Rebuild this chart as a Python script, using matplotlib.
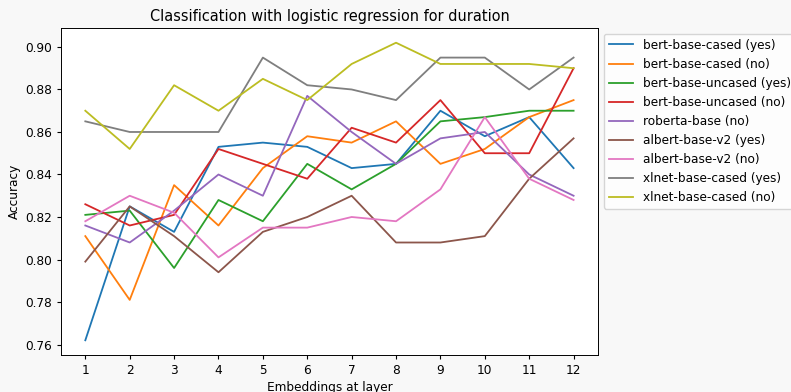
import matplotlib
matplotlib.use("Agg")
import matplotlib.pyplot as plt

layers = list(range(1, 13))

bert_cased_yes = [0.762, 0.825, 0.813, 0.853, 0.855, 0.853, 0.843, 0.845, 0.870, 0.858, 0.867, 0.843]
bert_cased_no = [0.811, 0.781, 0.835, 0.816, 0.843, 0.858, 0.855, 0.865, 0.845, 0.852, 0.867, 0.875]
bert_uncased_yes = [0.821, 0.823, 0.796, 0.828, 0.818, 0.845, 0.833, 0.845, 0.865, 0.867, 0.870, 0.870]
bert_uncased_no = [0.826, 0.816, 0.821, 0.852, 0.845, 0.838, 0.862, 0.855, 0.875, 0.850, 0.850, 0.890]
roberta_no = [0.816, 0.808, 0.823, 0.840, 0.830, 0.877, 0.860, 0.845, 0.857, 0.860, 0.840, 0.830]
albert_yes = [0.799, 0.825, 0.811, 0.794, 0.813, 0.820, 0.830, 0.808, 0.808, 0.811, 0.838, 0.857]
albert_no = [0.818, 0.830, 0.822, 0.801, 0.815, 0.815, 0.820, 0.818, 0.833, 0.867, 0.838, 0.828]
xlnet_yes = [0.865, 0.860, 0.860, 0.860, 0.895, 0.882, 0.880, 0.875, 0.895, 0.895, 0.880, 0.895]
xlnet_no = [0.870, 0.852, 0.882, 0.870, 0.885, 0.875, 0.892, 0.902, 0.892, 0.892, 0.892, 0.890]

series = [
    ("bert-base-cased (yes)", bert_cased_yes),
    ("bert-base-cased (no)", bert_cased_no),
    ("bert-base-uncased (yes)", bert_uncased_yes),
    ("bert-base-uncased (no)", bert_uncased_no),
    ("roberta-base (no)", roberta_no),
    ("albert-base-v2 (yes)", albert_yes),
    ("albert-base-v2 (no)", albert_no),
    ("xlnet-base-cased (yes)", xlnet_yes),
    ("xlnet-base-cased (no)", xlnet_no),
]

# the original looks like a scaled-down render, so shrink everything a bit
s = 0.87
plt.rcParams['font.size'] = 10 * s
plt.rcParams['lines.linewidth'] = 1.5 * s
plt.rcParams['xtick.major.size'] = 3.5 * s
plt.rcParams['ytick.major.size'] = 3.5 * s
plt.rcParams['axes.linewidth'] = 0.8 * s

fig = plt.figure(figsize=(7.91, 3.92), dpi=100, facecolor='#f8f8f8')
ax = fig.add_axes([0.077, 0.094, 0.679, 0.835])

for name, vals in series:
    ax.plot(layers, vals, label=name)

ax.set_xticks(layers)
ax.set_title("Classification with logistic regression for duration", fontsize=12 * s, pad=6 * s)
ax.set_xlabel("Embeddings at layer", labelpad=3.5 * s)
ax.set_ylabel("Accuracy", labelpad=3.5 * s)
ax.legend(loc='upper left', bbox_to_anchor=(1, 1))

fig.savefig("out.png", dpi=100, facecolor=fig.get_facecolor())
